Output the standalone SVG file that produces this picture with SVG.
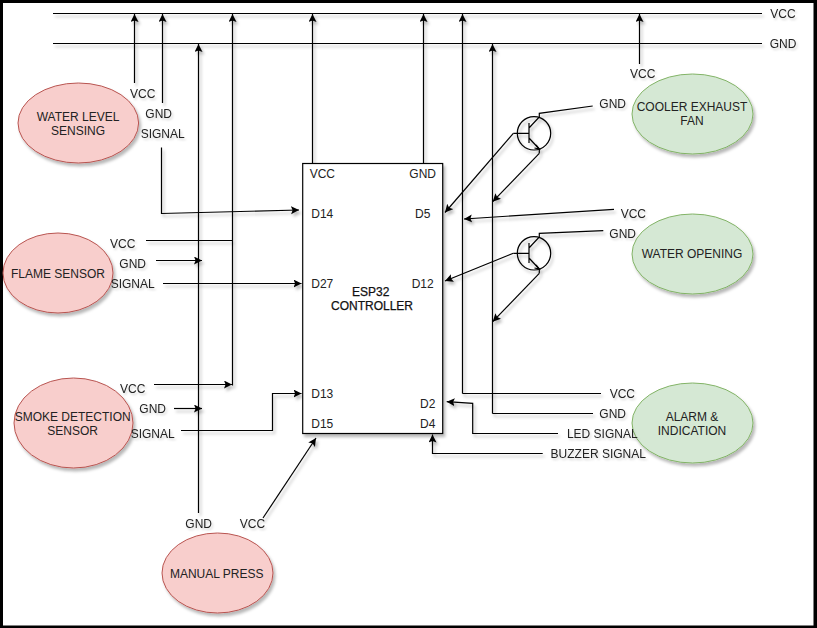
<svg xmlns="http://www.w3.org/2000/svg" width="817" height="628" viewBox="0 0 817 628">
<defs>
<marker id="a" markerUnits="userSpaceOnUse" markerWidth="10" markerHeight="10" refX="8" refY="4" orient="auto"><path d="M0 0L8 4L0 8L1.600 4Z" fill="#000"/></marker>
<filter id="s" x="-20%" y="-20%" width="150%" height="150%"><feDropShadow dx="2" dy="3" stdDeviation="1.600" flood-color="#000" flood-opacity=".28"/></filter>
<filter id="ts" x="-10%" y="-10%" width="120%" height="120%"><feDropShadow dx="1.500" dy="2" stdDeviation="1.200" flood-color="#000" flood-opacity=".18"/></filter>
</defs>
<style>
text{font-family:"Liberation Sans",Arial,sans-serif;font-size:12px;fill:#222;text-anchor:middle}
.c path,.t path,.t circle{fill:none;stroke:#000;stroke-width:1.200}
.c .r{marker-end:url(#a)}
.red{fill:#f8cecc;stroke:#b85450;stroke-width:1}
.grn{fill:#d5e8d4;stroke:#82b366;stroke-width:1}
.b{fill:#111;stroke:#111;stroke-width:.25}
</style>
<rect width="817" height="628" fill="#fff"/>
<path d="M0 0H817V628H0ZM3 3V625.500H813.500V3Z" fill="#000" fill-rule="evenodd"/>
<g class="c" id="connectors" filter="url(#s)">
<path d="M53 13.500H762M53 43.500H762"/>
<path class="r" d="M134.500 83V14"/>
<path class="r" d="M162.500 103V14"/>
<path class="r" d="M198.500 513V44"/>
<path class="r" d="M232.500 385.500V14"/>
<path class="r" d="M312.500 163V14"/>
<path class="r" d="M423.500 163V14"/>
<path class="r" d="M462.500 393.500V14"/>
<path class="r" d="M492.500 413.500V44"/>
<path class="r" d="M639.500 64V14"/>
<path class="r" d="M161.500 147.500V213.500L299 210"/>
<path d="M146 240.500H232.500"/>
<path class="r" d="M156 260.500H202"/>
<path class="r" d="M163 283.500H301.500"/>
<path class="r" d="M154 384.500H232"/>
<path class="r" d="M174 408.500H202"/>
<path class="r" d="M181 430.500H272.500V393.500H301.500"/>
<path class="r" d="M263 518L316 438"/>
<path class="r" d="M513.300 133.300L445 212.500"/>
<path class="r" d="M539.300 153.300L492.700 201.700"/>
<path class="r" d="M614 209.300L464 219"/>
<path class="r" d="M513.300 253.300L445 281"/>
<path class="r" d="M539.300 273.300L492.700 321.700"/>
<path d="M462.500 393.500H601M492.500 413.500H593"/>
<path class="r" d="M558 433.500H472.700V403.300L446.700 401.700"/>
<path class="r" d="M542.700 453.500H432.500V434.500"/>
</g>
<g class="t" id="transistor1" filter="url(#s)">
<circle cx="534" cy="133.300" r="16.700"/>
<path d="M513.300 133.300H529M529 123V143M529 128L539.300 117V113.300L592.700 106M529 138L539.300 149V153.300"/>
<path d="M536 145L539.300 149L534.500 148" fill="#000"/>
</g>
<g class="t" id="transistor2" filter="url(#s)">
<circle cx="534" cy="253.300" r="16.700"/>
<path d="M513.300 253.300H529M529 243V263M529 248L539.300 237V233.300L603.300 230.700M529 258L539.300 269V273.300"/>
<path d="M536 265L539.300 269L534.500 268" fill="#000"/>
</g>
<g id="esp32"><rect x="302.700" y="163.500" width="140" height="270" fill="#fff" stroke="#000" stroke-width="1.200" filter="url(#s)"/>
<text x="322.300" y="177.700">VCC</text><text x="422.700" y="177.700">GND</text><text x="322.300" y="218">D14</text><text x="422.700" y="218">D5</text><text x="322.300" y="288">D27</text><text x="422.700" y="288">D12</text><text x="322.300" y="398">D13</text><text x="427.700" y="407.700">D2</text><text x="322.300" y="427.700">D15</text><text x="427.700" y="427.700">D4</text>
<text class="b" x="370.700" y="296">ESP32</text><text class="b" x="372" y="310">CONTROLLER</text></g>
<g id="water-level"><ellipse class="red" cx="78.300" cy="123" rx="60.300" ry="40" filter="url(#s)"/><text x="78" y="120.700">WATER LEVEL</text><text x="78" y="135">SENSING</text></g>
<g id="flame"><ellipse class="red" cx="58" cy="273" rx="55" ry="40" filter="url(#s)"/><text x="58" y="278">FLAME SENSOR</text></g>
<g id="smoke"><ellipse class="red" cx="73.500" cy="423" rx="59.500" ry="45" filter="url(#s)"/><text x="72.700" y="420.700">SMOKE DETECTION</text><text x="72.700" y="435">SENSOR</text></g>
<g id="manual"><ellipse class="red" cx="217.500" cy="573" rx="55.500" ry="40" filter="url(#s)"/><text x="216.700" y="577.700">MANUAL PRESS</text></g>
<g id="cooler"><ellipse class="grn" cx="692.500" cy="114" rx="60.500" ry="40" filter="url(#s)"/><text x="692" y="111">COOLER EXHAUST</text><text x="692" y="125">FAN</text></g>
<g id="water-opening"><ellipse class="grn" cx="692.500" cy="254" rx="60.500" ry="40" filter="url(#s)"/><text x="692" y="258">WATER OPENING</text></g>
<g id="alarm"><ellipse class="grn" cx="692.500" cy="423" rx="60.500" ry="40" filter="url(#s)"/><text x="692" y="420.700">ALARM &amp;</text><text x="692" y="435">INDICATION</text></g>
<g id="labels" filter="url(#ts)">
<text x="783" y="18">VCC</text><text x="783" y="48">GND</text>
<text x="142.700" y="98">VCC</text><text x="158.700" y="118">GND</text><text x="162.700" y="138">SIGNAL</text>
<text x="122.700" y="248">VCC</text><text x="132.700" y="268">GND</text><text x="132.700" y="288">SIGNAL</text>
<text x="132.700" y="392.700">VCC</text><text x="152.700" y="412.700">GND</text><text x="152.700" y="437.700">SIGNAL</text>
<text x="198.700" y="527.700">GND</text><text x="252.500" y="527.700">VCC</text>
<text x="642.700" y="78">VCC</text><text x="612.700" y="107.700">GND</text><text x="633.300" y="217.500">VCC</text><text x="622.700" y="237.700">GND</text>
<text x="622.300" y="397.500">VCC</text><text x="612.700" y="417.700">GND</text><text x="602.300" y="437.700">LED SIGNAL</text><text x="598.300" y="457.700">BUZZER SIGNAL</text>
</g>
</svg>
